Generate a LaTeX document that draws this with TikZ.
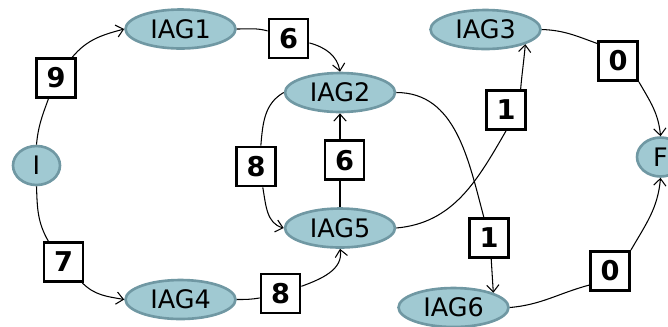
\documentclass[tikz,border=0pt]{standalone}
\usepackage{fontspec}
\setmainfont{DejaVu Sans}
\usepackage{xcolor}
\definecolor{stateFill}{RGB}{160,201,210}
\definecolor{stateLine}{RGB}{112,152,163}
\usepackage{tikz}
\usetikzlibrary{arrows.meta,shapes.geometric,positioning}
\tikzstyle{statenode}=[ellipse, draw=stateLine, fill=stateFill, line width=1.5pt, minimum width=2.2cm, minimum height=0.78cm, inner sep=0pt, font=\fontsize{14.5}{16}\selectfont]
\tikzstyle{endnode}=[statenode, minimum width=0.94cm, minimum height=0.78cm]
\tikzstyle{weightbox}=[rectangle, draw=black, fill=white, line width=1.6pt, minimum width=0.78cm, minimum height=0.78cm, inner sep=0pt, font=\fontsize{15.5}{17}\selectfont\bfseries]
\tikzstyle{flowarrow}=[-{Straight Barb[length=4pt,width=7pt]}, line width=0.6pt, color=black]

\begin{document}
\begin{tikzpicture}[x=0.02cm, y=0.02cm]
    \useasboundingbox (0,0) rectangle (668,-326);

    % Estados
    \node[endnode] (I) at (36.5,-165.5) {I};
    \node[statenode] (IAG1) at (180.5,-29) {IAG1};
    \node[statenode] (IAG2) at (340,-92.5) {IAG2};
    \node[statenode] (IAG3) at (485.5,-29.5) {IAG3};
    \node[statenode] (IAG5) at (340,-228) {IAG5};
    \node[statenode] (IAG4) at (180.5,-299.5) {IAG4};
    \node[statenode] (IAG6) at (453.5,-307.5) {IAG6};
    \node[endnode] (F) at (660.5,-157) {F};

    % Pesos
    \node[weightbox] (w9) at (56,-78) {9};
    \node[weightbox] (w6a) at (288.5,-38.5) {6};
    \node[weightbox] (w8a) at (256,-166.5) {8};
    \node[weightbox] (w7) at (63.5,-262) {7};
    \node[weightbox] (w8b) at (280.5,-293.5) {8};
    \node[weightbox] (w1a) at (506,-110) {1};
    \node[weightbox] (w1b) at (489,-238) {1};
    \node[weightbox] (w0a) at (618,-61) {0};
    \node[weightbox] (w0b) at (610,-271) {0};

    % Arcos
    \draw[flowarrow] (I.north) to[out=85,in=-110] (w9.-110)
      (w9.52) to[out=50,in=195] (IAG1.west);
    \draw[flowarrow] (IAG1.east) to[out=0,in=165] (w6a.160)
      (w6a.-12) to[out=-15,in=100] (IAG2.north);
    \draw[flowarrow] (I.south) to[out=-88,in=120] (w7.126)
      (w7.-48) to[out=-45,in=170] (IAG4.west);
    \draw[flowarrow] (IAG4.east) to[out=0,in=190] (w8b.192)
      (w8b.19) to[out=20,in=-80] (IAG5.south);
    \draw[flowarrow] (IAG5) -- node[weightbox, xshift=0.09cm] (w6b) {6} (IAG2);
    \draw[flowarrow] (IAG2.west) to[out=210,in=85] (w8a.77)
      (w8a.-72) to[out=-80,in=165] (IAG5.west);
    \draw[flowarrow] (IAG5.east) to[out=5,in=-120] (w1a.south)
      (w1a.55) to[out=85,in=-95] (IAG3.south east);
    \draw[flowarrow] (IAG2.east) to[out=0,in=105] (w1b.104)
      (w1b.-84) -- (IAG6.north east);
    \draw[flowarrow] (IAG3.east) to[out=-2,in=160] (w0a.140)
      (w0a.south east) to[out=-60,in=95] (F.north);
    \draw[flowarrow] (IAG6.east) to[out=5,in=195] (w0b.214)
      (w0b.north east) to[out=60,in=-95] (F.south);
  \end{tikzpicture}
\end{document}
